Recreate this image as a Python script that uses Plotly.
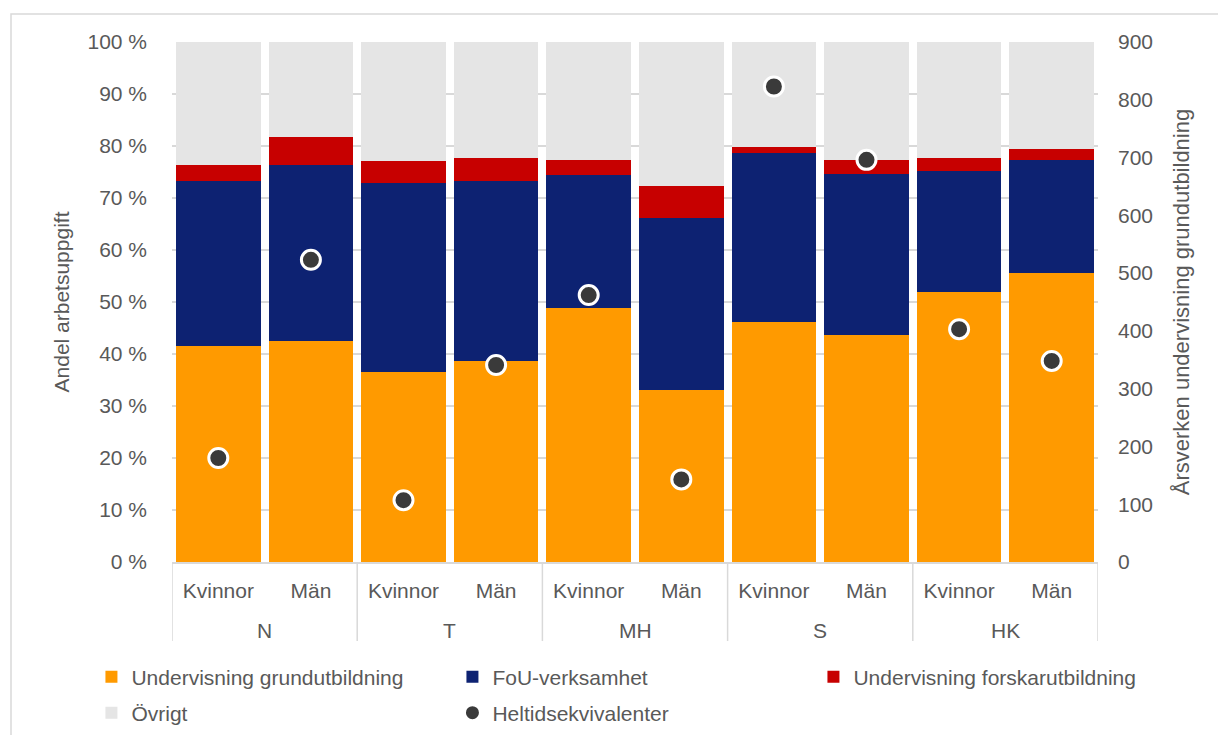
import plotly.graph_objects as go

groups = ["N", "T", "MH", "S", "HK"]
genders = ["Kvinnor", "Män"]
categories = [f"{g} {s}" for g in groups for s in genders]

# shares (%) of work tasks
grund = [41.5, 42.5, 36.5, 38.7, 48.8, 33.1, 46.2, 43.7, 51.9, 55.6]
fou = [31.8, 33.8, 36.4, 34.6, 25.6, 33.0, 32.4, 31.0, 23.2, 21.8]
forskar = [3.0, 5.4, 4.2, 4.4, 3.0, 6.2, 1.3, 2.7, 2.6, 2.1]
ovrigt = [round(100 - a - b - c, 1) for a, b, c in zip(grund, fou, forskar)]
heltid = [180, 523, 107, 341, 462, 143, 823, 696, 403, 348]

y_ticks = [0, 10, 20, 30, 40, 50, 60, 70, 80, 90, 100]
y_ticklabels = [f"{v} %" for v in y_ticks]
y2_ticks = [0, 100, 200, 300, 400, 500, 600, 700, 800, 900]

grey_txt = "#595959"
font_family = "Liberation Sans, Arial, sans-serif"

xs = list(range(len(categories)))
x_labels = [genders[i % 2] for i in xs]

fig = go.Figure()
series = [
    ("Undervisning grundutbildning", grund, "#FF9A00", "legend"),
    ("FoU-verksamhet", fou, "#0D2272", "legend"),
    ("Undervisning forskarutbildning", forskar, "#C70000", "legend"),
    ("Övrigt", ovrigt, "#E5E5E5", "legend2"),
]
for name, vals, col, lg in series:
    fig.add_trace(go.Bar(x=xs, y=vals, name=name, marker=dict(color=col, line=dict(width=0)),
                         width=0.915, yaxis="y", legend=lg))

fig.add_trace(go.Scatter(x=xs, y=heltid, name="Heltidsekvivalenter", mode="markers",
                         yaxis="y2", legend="legend2",
                         marker=dict(color="#3A3A3A", size=19, line=dict(color="white", width=3))))

legend_common = dict(orientation="h", x=-0.087, xanchor="left", yanchor="middle",
                     entrywidth=316, entrywidthmode="pixels", itemwidth=30,
                     font=dict(size=21, color=grey_txt), traceorder="normal",
                     bgcolor="rgba(0,0,0,0)")

fig.update_layout(
    width=1218, height=735,
    barmode="stack",
    paper_bgcolor="white", plot_bgcolor="white",
    margin=dict(l=172, r=120, t=42, b=173, autoexpand=False),
    font=dict(family=font_family, color=grey_txt, size=21),
    xaxis=dict(range=[-0.5, 9.5], tickvals=xs, ticktext=x_labels, showgrid=False,
               showline=True, linecolor="#D9D9D9", linewidth=1.5, ticks="",
               tickfont=dict(size=21, color=grey_txt), ticklabelstandoff=9, zeroline=False,
               automargin=False),
    yaxis=dict(range=[0, 100], tickvals=y_ticks, ticktext=y_ticklabels, showgrid=True,
               gridcolor="#D9D9D9", gridwidth=1.5, zeroline=False, automargin=False,
               tickfont=dict(size=21, color=grey_txt), ticklabelstandoff=24,
               title=dict(text="Andel arbetsuppgift", font=dict(size=21, color=grey_txt), standoff=12)),
    yaxis2=dict(range=[0, 900], tickvals=y2_ticks, overlaying="y", side="right", showgrid=False,
                zeroline=False, automargin=False, tickfont=dict(size=21, color=grey_txt),
                ticklabelstandoff=19,
                title=dict(text="Årsverken undervisning grundutbildning", font=dict(size=22, color=grey_txt),
                           standoff=21)),
    legend=dict(y=(562 - 677) / 520, **legend_common),
    legend2=dict(y=(562 - 713) / 520, **legend_common),
    bargap=0,
)

shapes = []
for b in [-0.5, 1.5, 3.5, 5.5, 7.5, 9.5]:
    shapes.append(dict(type="line", xref="x", yref="paper", x0=b, x1=b, y0=0, y1=-0.152,
                       line=dict(color="#D9D9D9", width=1.5)))
shapes.append(dict(type="rect", xref="paper", yref="paper",
                   x0=(11 - 172) / 926, x1=(1240 - 172) / 926,
                   y0=(562 - 760) / 520, y1=(562 - 14) / 520,
                   line=dict(color="#D9D9D9", width=1.5), layer="below"))
fig.update_layout(shapes=shapes)

for gi, g in enumerate(groups):
    fig.add_annotation(x=gi * 2 + 0.5, y=-0.131, xref="x", yref="paper", text=g, showarrow=False,
                       font=dict(size=21, color=grey_txt), yanchor="middle")

fig.write_html("out.html", config={"displayModeBar": False},
               post_script="document.body.style.margin='0px';")
